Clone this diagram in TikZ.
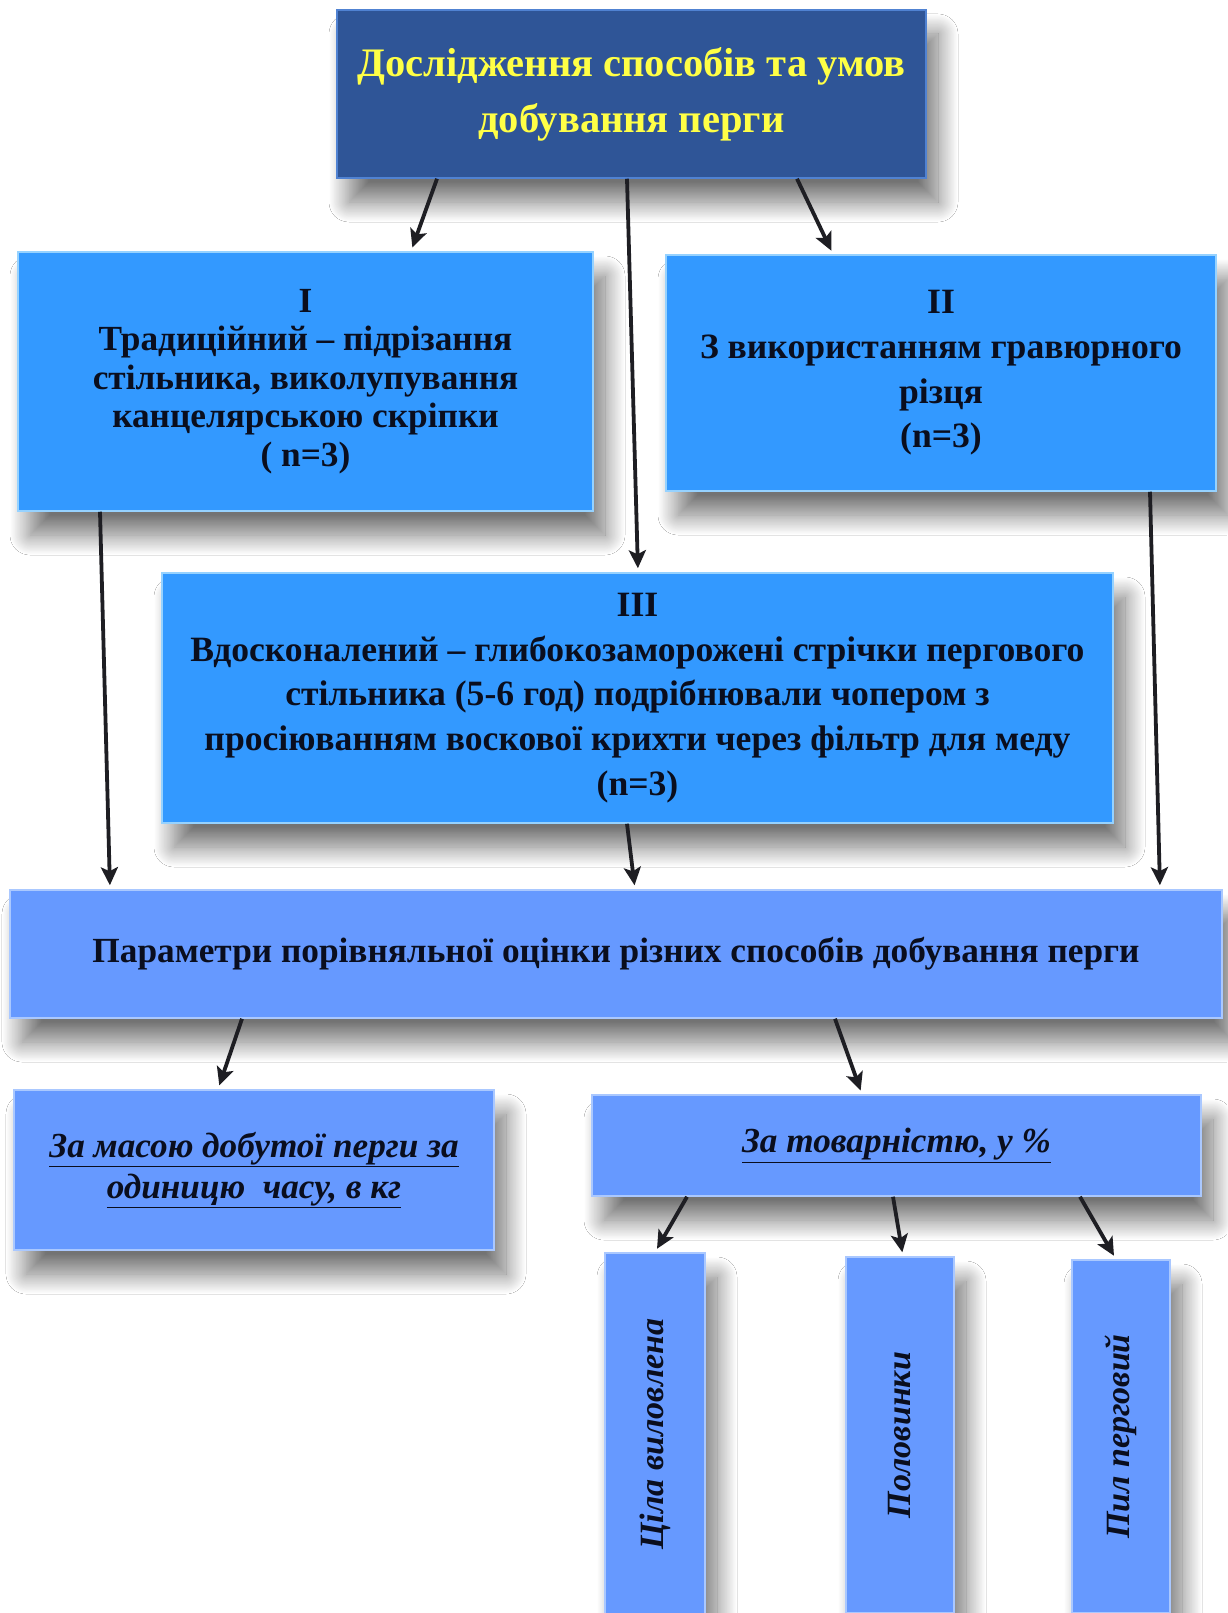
\documentclass[tikz,border=0pt]{standalone}
\usepackage{fontspec}
\setmainfont{Liberation Serif}
\usetikzlibrary{arrows.meta,shadows.blur}
\definecolor{topfill}{RGB}{47,85,151}
\definecolor{topedge}{RGB}{80,130,210}
\definecolor{topyellow}{RGB}{255,255,70}
\definecolor{bluefill}{RGB}{51,153,255}
\definecolor{blueedge}{RGB}{150,210,255}
\definecolor{perifill}{RGB}{102,153,255}
\definecolor{periedge}{RGB}{170,200,255}
\definecolor{inkcol}{RGB}{10,14,30}
\definecolor{arrowcol}{RGB}{30,30,35}
\begin{document}
\begin{tikzpicture}[x=1pt,y=-1pt,
  basebox/.style={rectangle, inner sep=0pt, align=center, line width=1.5pt,
    blur shadow={shadow xshift=12pt, shadow yshift=-24pt, shadow blur radius=20pt,
      shadow blur steps=24, shadow opacity=55}},
  topbox/.style={basebox, fill=topfill, draw=topedge, text=topyellow,
    font=\bfseries\fontsize{40.5}{56}\selectfont},
  bluebox/.style={basebox, fill=bluefill, draw=blueedge, text=inkcol},
  peribox/.style={basebox, fill=perifill, draw=periedge, text=inkcol},
  vtext/.style={rotate=90, text=inkcol, font=\bfseries\itshape\fontsize{34}{40}\selectfont},
  arr/.style={line width=3.8pt, draw=arrowcol, shorten >=4pt,
    -{Stealth[length=18pt,width=17pt,inset=4pt]}}
]
\useasboundingbox (0,0) rectangle (1227,1613);
\fill[white] (0,0) rectangle (1227,1613);

\node[topbox, minimum width=589pt, minimum height=168pt] (top) at (631.5,94)
  {Дослідження способів та умов\\добування перги};

\node[bluebox, minimum width=575pt, minimum height=259pt,
  font=\bfseries\fontsize{35.3}{38.6}\selectfont] (b1) at (305.5,381.5)
  {I\\Традиційний – підрізання\\стільника, виколупування\\канцелярською скріпки\\( n=3)};

\node[bluebox, minimum width=550pt, minimum height=236pt,
  font=\bfseries\fontsize{35.6}{44.7}\selectfont] (b2) at (941,373)
  {II\\З використанням гравюрного\\різця\\(n=3)};

\node[bluebox, minimum width=951pt, minimum height=250pt,
  font=\bfseries\fontsize{35.6}{44.7}\selectfont] (b3) at (637.5,698)
  {III\\Вдосконалений – глибокозаморожені стрічки пергового\\стільника (5-6 год) подрібнювали чопером з\\просіюванням воскової крихти через фільтр для меду\\(n=3)};

\node[peribox, minimum width=1212pt, minimum height=128pt,
  font=\bfseries\fontsize{35.3}{40}\selectfont] (par) at (616,954)
  {Параметри порівняльної оцінки різних способів добування перги};

\node[peribox, minimum width=480pt, minimum height=160pt,
  font=\bfseries\itshape\fontsize{35.2}{41}\selectfont] (mass) at (254,1170)
  {\underline{За масою добутої перги за}\\\underline{одиницю\ \ часу, в кг}};

\node[peribox, minimum width=609pt, minimum height=101pt,
  font=\bfseries\itshape\fontsize{35.2}{40}\selectfont] (tov) at (896.5,1145.5)
  {\underline{За товарністю, у \%}};

\node[peribox, minimum width=100pt, minimum height=362pt] (v1) at (655,1434) {};
\node[peribox, minimum width=108pt, minimum height=356pt] (v2) at (900,1435) {};
\node[peribox, minimum width=98pt, minimum height=353pt] (v3) at (1121,1436.5) {};
\node[vtext] (t1) at (v1.center) {Ціла виловлена};
\node[vtext] (t2) at (v2.center) {Половинки};
\node[vtext] (t3) at (v3.center) {Пил перговий};

\draw[arr] ([xshift=-194.5pt]top.south) -- ([xshift=105.5pt]b1.north);
\draw[arr] ([xshift=-4.5pt]top.south) -- ([xshift=0.5pt]b3.north);
\draw[arr] ([xshift=165.5pt]top.south) -- ([xshift=-108pt]b2.north);

\draw[arr] ([xshift=-205.5pt]b1.south) -- ([xshift=-506pt]par.north);
\draw[arr] ([xshift=-10.5pt]b3.south) -- ([xshift=19pt]par.north);
\draw[arr] ([xshift=209pt]b2.south) -- ([xshift=544pt]par.north);

\draw[arr] ([xshift=-374pt]par.south) -- ([xshift=-36pt]mass.north);
\draw[arr] ([xshift=219pt]par.south) -- ([xshift=-34.5pt]tov.north);

\draw[arr] ([xshift=-209.5pt]tov.south) -- ([xshift=0pt]v1.north);
\draw[arr] ([xshift=-3.5pt]tov.south) -- ([xshift=3pt]v2.north);
\draw[arr] ([xshift=183.5pt]tov.south) -- ([xshift=-5pt]v3.north);
\end{tikzpicture}
\end{document}
